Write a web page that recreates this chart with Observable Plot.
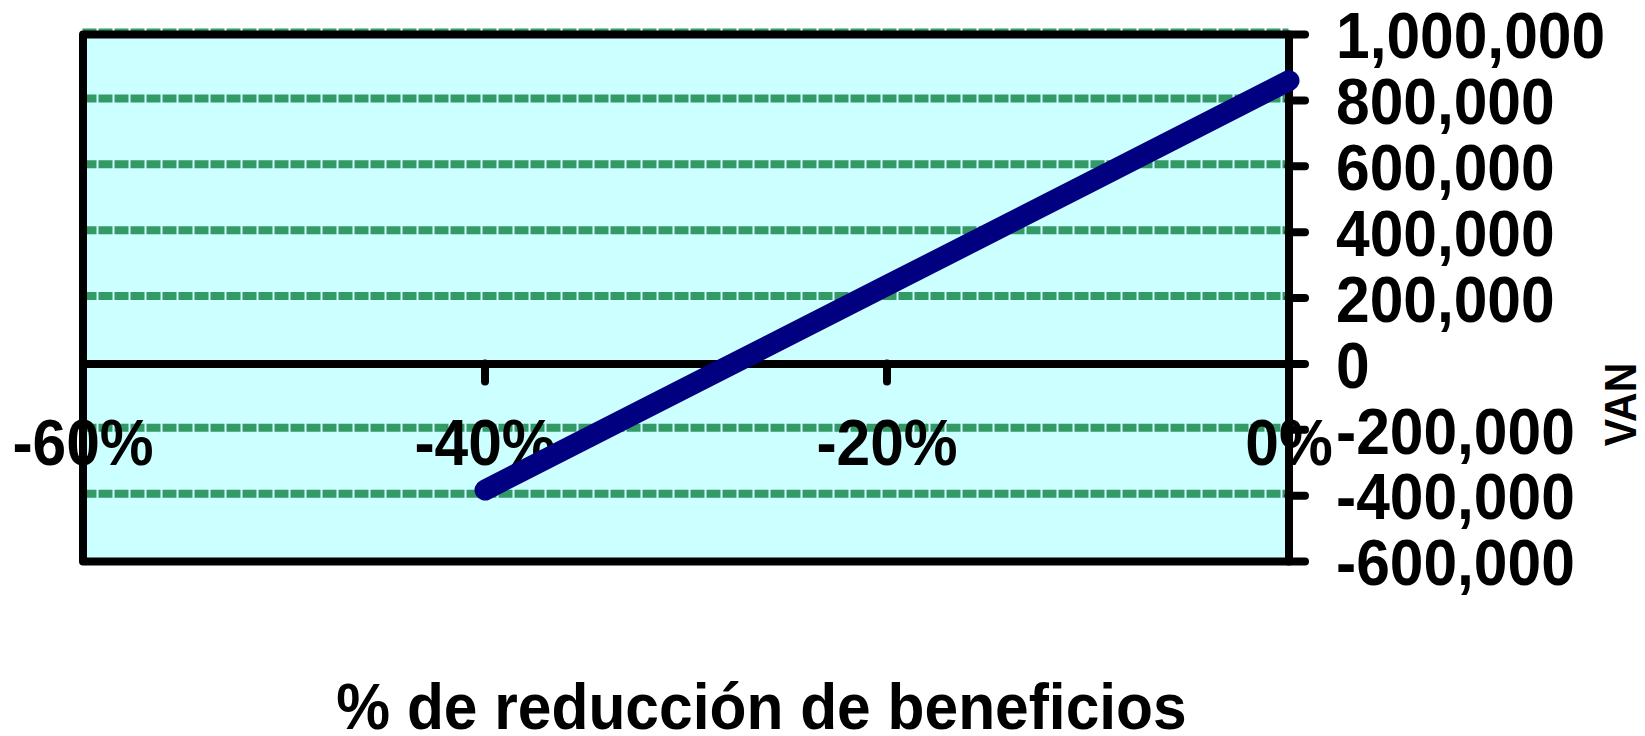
<!DOCTYPE html>
<html>
<head>
<meta charset="utf-8">
<script src="https://cdn.jsdelivr.net/npm/d3@7"></script>
<script src="https://cdn.jsdelivr.net/npm/@observablehq/plot@0.6"></script>
<style>
  html, body { margin: 0; padding: 0; background: #ffffff; }
  #chart { width: 1645px; height: 736px; }
</style>
</head>
<body>
<div id="chart"></div>
<script>
// Sensibilidad del VAN frente a la reducción de beneficios
const reduccion = [-40, -30, -20, -10, 0];
const van = [-383000, -72000, 238000, 549000, 860000];

const xTicks = [-60, -40, -20, 0];
const xTickLabels = ["-60%", "-40%", "-20%", "0%"];
const yTicks = [-600000, -400000, -200000, 0, 200000, 400000, 600000, 800000, 1000000];
const yTickLabels = ["-600,000", "-400,000", "-200,000", "0", "200,000", "400,000", "600,000", "800,000", "1,000,000"];
const gridValues = [-400000, -200000, 200000, 400000, 600000, 800000, 1000000];

const xTitle = "% de reducción de beneficios";
const yTitle = "VAN";

const serie = reduccion.map((x, i) => ({x, y: van[i]}));
const xLabelOf = new Map(xTicks.map((v, i) => [v, xTickLabels[i]]));
const yLabelOf = new Map(yTicks.map((v, i) => [v, yTickLabels[i]]));

const FONT = "'Liberation Sans', Arial, Helvetica, sans-serif";
const SIZE = 60.5;

const chart = Plot.plot({
  width: 1645,
  height: 736,
  marginLeft: 82.5,
  marginRight: 356.5,
  marginTop: 34,
  marginBottom: 175,
  style: { background: "#ffffff", fontFamily: FONT, overflow: "visible" },
  x: { domain: [-60, 0], axis: null },
  y: { domain: [-600000, 1000000], axis: null },
  marks: [
    // plot area background
    Plot.frame({ fill: "#CCFFFF" }),
    // dashed horizontal gridlines
    Plot.ruleY(gridValues, {
      stroke: "#339966", strokeWidth: 8, strokeDasharray: "14,2", dy: -2
    }),
    // zero line acting as the category axis
    Plot.ruleY([0], { stroke: "#000000", strokeWidth: 8 }),
    // plot area border
    Plot.frame({ stroke: "#000000", strokeWidth: 8, strokeLinejoin: "round" }),
    // tick marks on the value axis (right side)
    Plot.ruleY(yTicks, {
      x1: () => 0, x2: () => 0, insetRight: -16.5,
      stroke: "#000000", strokeWidth: 8, strokeLinecap: "round"
    }),
    // tick marks on the category axis (hanging below zero)
    Plot.ruleX(xTicks, {
      y1: () => 0, y2: () => 0, insetBottom: -18,
      stroke: "#000000", strokeWidth: 8, strokeLinecap: "round"
    }),
    // value axis labels
    Plot.text(yTicks, {
      x: () => 0, y: d => d, text: d => yLabelOf.get(d),
      textAnchor: "start", lineAnchor: "middle", dx: 47, dy: 3,
      fontSize: SIZE, fontWeight: "bold", fill: "#000000"
    }),
    // category axis labels
    Plot.text(xTicks, {
      x: d => d, y: () => 0, text: d => xLabelOf.get(d),
      textAnchor: "middle", lineAnchor: "middle", dy: 80,
      fontSize: SIZE, fontWeight: "bold", fill: "#000000"
    }),
    // VAN line
    Plot.line(serie, {
      x: "x", y: "y", stroke: "#000080", strokeWidth: 21,
      strokeLinecap: "round", strokeLinejoin: "round"
    }),
    // axis titles
    Plot.text([xTitle], {
      frameAnchor: "bottom", textAnchor: "middle", lineAnchor: "middle",
      dx: 75.5, dy: 147, fontSize: SIZE, fontWeight: "bold", fill: "#000000"
    }),
    Plot.text([yTitle], {
      frameAnchor: "right", textAnchor: "middle", lineAnchor: "middle", rotate: -90,
      dx: 332.5, dy: 106.5, fontSize: 41, fontWeight: "bold", fill: "#000000"
    })
  ]
});

// the typeface used here is slightly taller than Arial: stretch glyphs vertically
chart.querySelectorAll("text").forEach(t => {
  const tr = t.getAttribute("transform") || "";
  t.setAttribute("transform", (tr + " scale(1,1.076)").trim());
});

document.getElementById("chart").appendChild(chart);
</script>
</body>
</html>
